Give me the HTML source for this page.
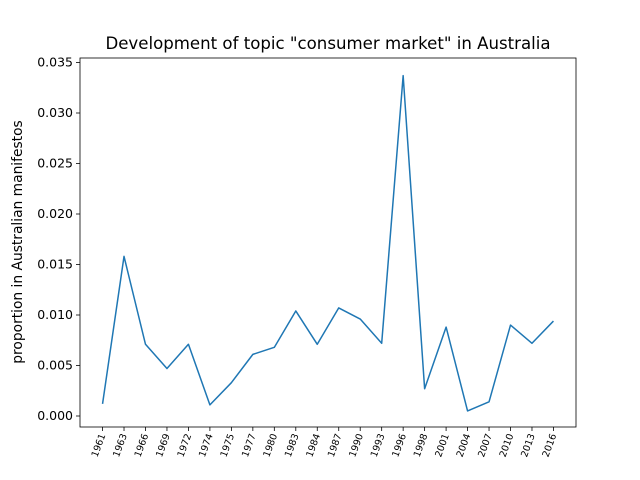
<!DOCTYPE html>
<html><head><meta charset="utf-8"><style>body{margin:0;background:#fff}svg{display:block;font-family:"DejaVu Sans","Liberation Sans",sans-serif}</style></head>
<body>
<svg id="chart" width="640" height="480"></svg>
<script>
const categories=["1961","1963","1966","1969","1972","1974","1975","1977","1980","1983","1984","1987","1990","1993","1996","1998","2001","2004","2007","2010","2013","2016"];
const values=[0.0012,0.0158,0.0071,0.0047,0.0071,0.0011,0.0033,0.0061,0.0068,0.0104,0.0071,0.0107,0.0096,0.0072,0.0337,0.0027,0.0088,0.0005,0.0014,0.0090,0.0072,0.0094];
const yTicks=[0,0.005,0.010,0.015,0.020,0.025,0.030,0.035];
const yTickLabels=["0.000","0.005","0.010","0.015","0.020","0.025","0.030","0.035"];
const NS="http://www.w3.org/2000/svg";
const svg=document.getElementById('chart');
const L=80,R=576,T=58,B=427;
const n=categories.length;
const xMin=-0.05*(n-1),xMax=(n-1)*1.05;
const X=i=>L+(i-xMin)/(xMax-xMin)*(R-L);
const y0=416,yPer=(416-113)/0.030;
const Y=v=>y0-v*yPer;
function mk(t,a){const e=document.createElementNS(NS,t);for(const k in a)e.setAttribute(k,a[k]);svg.appendChild(e);return e;}
const title=mk('text',{x:328,y:49,'text-anchor':'middle','font-size':16.6,fill:'#000'});


title.textContent='Development of topic "consumer market" in Australia';
const yl=mk('text',{x:0,y:0,'text-anchor':'middle','font-size':13.8,transform:'translate(22,242) rotate(-90)'});


yl.textContent='proportion in Australian manifestos';
yTicks.forEach((v,i)=>{
 const tk=mk('line',{x1:L-4,x2:L,y1:Y(v),y2:Y(v),stroke:'#000','stroke-width':0.8});
 
 
 const t=mk('text',{x:L-7,y:Y(v)+4,'text-anchor':'end','font-size':12.5});
 
 
 t.textContent=yTickLabels[i];
});
categories.forEach((c,i)=>{
 const x=X(i);
 const tk=mk('line',{x1:x,x2:x,y1:B,y2:B+4,stroke:'#000','stroke-width':0.8});
 
 
 const t=mk('text',{x:0,y:0,'text-anchor':'end','font-size':9.5,transform:`translate(${x+3},${B+8}) rotate(-70)`});
 
 
 t.textContent=c;
});
const pts=values.map((v,i)=>X(i).toFixed(2)+','+Y(v).toFixed(2)).join(' ');
const line=mk('polyline',{points:pts,fill:'none',stroke:'#1f77b4','stroke-width':1.5,'stroke-linejoin':'round'});


const frame=mk('rect',{x:L,y:T,width:R-L,height:B-T,fill:'none',stroke:'#000','stroke-width':0.8});


</script>
</body></html>
